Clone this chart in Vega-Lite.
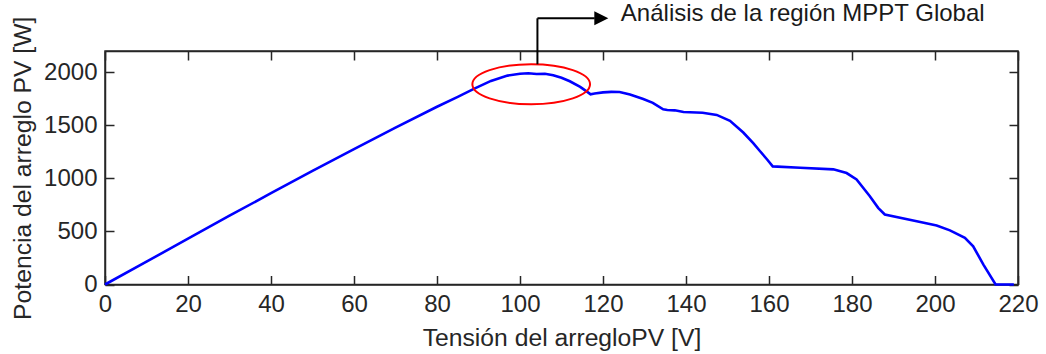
{
  "$schema": "https://vega.github.io/schema/vega-lite/v6.json",
  "width": 913,
  "height": 233.5,
  "autosize": {"type": "none"},
  "padding": {"left": 105, "top": 51, "right": 28, "bottom": 69.5},
  "background": "white",
  "config": {
    "view": {"stroke": "#262626", "strokeWidth": 1.5},
    "font": "Liberation Sans",
    "axis": {
      "grid": false,
      "labelFont": "Liberation Sans",
      "labelFontSize": 24,
      "labelColor": "#262626",
      "labelFlush": false,
      "labelOverlap": false,
      "titleFont": "Liberation Sans",
      "titleFontSize": 24.7,
      "titleFontWeight": "normal",
      "titleColor": "#262626",
      "domainColor": "#262626",
      "domainWidth": 1.5,
      "tickColor": "#262626",
      "tickWidth": 1.5,
      "tickSize": -9,
      "labelPadding": 17,
      "format": "d"
    }
  },
  "datasets": {
    "curve": [
      {"V": 0, "P": 0}, {"V": 10, "P": 215}, {"V": 20, "P": 432}, {"V": 30, "P": 648},
      {"V": 40, "P": 860}, {"V": 50, "P": 1070}, {"V": 60, "P": 1275}, {"V": 70, "P": 1478},
      {"V": 80, "P": 1675}, {"V": 85, "P": 1768}, {"V": 89, "P": 1845}, {"V": 93, "P": 1918},
      {"V": 97, "P": 1968}, {"V": 100, "P": 1985}, {"V": 102, "P": 1990}, {"V": 104, "P": 1984},
      {"V": 106, "P": 1986}, {"V": 108, "P": 1972}, {"V": 110, "P": 1948}, {"V": 112, "P": 1915},
      {"V": 114.5, "P": 1862}, {"V": 116.3, "P": 1812}, {"V": 117, "P": 1792}, {"V": 118, "P": 1800},
      {"V": 120, "P": 1810}, {"V": 122, "P": 1815}, {"V": 124, "P": 1813}, {"V": 126.5, "P": 1790},
      {"V": 129.7, "P": 1748}, {"V": 132, "P": 1712}, {"V": 134.5, "P": 1650}, {"V": 135.5, "P": 1644},
      {"V": 137.3, "P": 1641}, {"V": 139.4, "P": 1625}, {"V": 144, "P": 1618}, {"V": 147.4, "P": 1598},
      {"V": 150.6, "P": 1542}, {"V": 153.8, "P": 1432}, {"V": 156.2, "P": 1332}, {"V": 157.8, "P": 1258},
      {"V": 159.5, "P": 1180}, {"V": 160.9, "P": 1113}, {"V": 167.5, "P": 1100}, {"V": 175.5, "P": 1085},
      {"V": 178.7, "P": 1050}, {"V": 181.1, "P": 990}, {"V": 184.3, "P": 832}, {"V": 186.3, "P": 722},
      {"V": 187.9, "P": 660}, {"V": 195.6, "P": 595}, {"V": 200.4, "P": 556}, {"V": 203.6, "P": 510},
      {"V": 207.2, "P": 440}, {"V": 209.2, "P": 360}, {"V": 211.7, "P": 185}, {"V": 214.6, "P": 0},
      {"V": 219, "P": 0}
    ],
    "ellipse": [{"V": 102.7, "P": 1887}],
    "arrowV": [{"V": 104.2, "P": 2075, "P2": 2508}],
    "arrowH": [{"V": 104.2, "V2": 118, "P": 2508}],
    "head": [{"V": 119.6, "P": 2508}],
    "label": [{"V": 124.3, "P": 2485, "text": "Análisis de la región MPPT Global"}]
  },
  "resolve": {"axis": {"x": "independent", "y": "independent"}},
  "layer": [
    {
      "data": {"name": "curve"},
      "mark": {"type": "line", "color": "#0000FF", "strokeWidth": 2.6},
      "encoding": {
        "x": {
          "field": "V", "type": "quantitative",
          "scale": {"domain": [0, 220], "nice": false, "zero": false},
          "axis": {"orient": "bottom", "values": [0, 20, 40, 60, 80, 100, 120, 140, 160, 180, 200, 220], "title": "Tensión del arregloPV [V]", "titlePadding": 9}
        },
        "y": {
          "field": "P", "type": "quantitative",
          "scale": {"domain": [0, 2200], "nice": false, "zero": false},
          "axis": {"orient": "left", "values": [0, 500, 1000, 1500, 2000], "title": "Potencia del arreglo PV [W]", "titlePadding": 8}
        }
      }
    },
    {
      "data": {"name": "curve"},
      "mark": {"type": "point", "opacity": 0},
      "encoding": {
        "x": {
          "field": "V", "type": "quantitative",
          "scale": {"domain": [0, 220], "nice": false, "zero": false},
          "axis": {"orient": "top", "values": [0, 20, 40, 60, 80, 100, 120, 140, 160, 180, 200, 220], "labels": false, "title": null}
        },
        "y": {
          "field": "P", "type": "quantitative",
          "scale": {"domain": [0, 2200], "nice": false, "zero": false},
          "axis": {"orient": "right", "values": [0, 500, 1000, 1500, 2000], "labels": false, "title": null}
        }
      }
    },
    {
      "data": {"name": "ellipse"},
      "mark": {"type": "point", "shape": "M-1,0A1,0.34 0 1,0 1,0A1,0.34 0 1,0 -1,0Z", "size": 13850, "filled": false, "stroke": "#FF0000", "strokeWidth": 2, "opacity": 1},
      "encoding": {
        "x": {"field": "V", "type": "quantitative", "scale": {"domain": [0, 220], "nice": false, "zero": false}, "axis": null},
        "y": {"field": "P", "type": "quantitative", "scale": {"domain": [0, 2200], "nice": false, "zero": false}, "axis": null}
      }
    },
    {
      "data": {"name": "arrowV"},
      "mark": {"type": "rule", "color": "black", "strokeWidth": 2},
      "encoding": {
        "x": {"field": "V", "type": "quantitative", "scale": {"domain": [0, 220], "nice": false, "zero": false}, "axis": null},
        "y": {"field": "P", "type": "quantitative", "scale": {"domain": [0, 2200], "nice": false, "zero": false}, "axis": null},
        "y2": {"field": "P2"}
      }
    },
    {
      "data": {"name": "arrowH"},
      "mark": {"type": "rule", "color": "black", "strokeWidth": 2},
      "encoding": {
        "x": {"field": "V", "type": "quantitative", "scale": {"domain": [0, 220], "nice": false, "zero": false}, "axis": null},
        "x2": {"field": "V2"},
        "y": {"field": "P", "type": "quantitative", "scale": {"domain": [0, 2200], "nice": false, "zero": false}, "axis": null}
      }
    },
    {
      "data": {"name": "head"},
      "mark": {"type": "point", "shape": "M-1,-1L1,0L-1,1Z", "size": 196, "filled": true, "color": "black", "opacity": 1},
      "encoding": {
        "x": {"field": "V", "type": "quantitative", "scale": {"domain": [0, 220], "nice": false, "zero": false}, "axis": null},
        "y": {"field": "P", "type": "quantitative", "scale": {"domain": [0, 2200], "nice": false, "zero": false}, "axis": null}
      }
    },
    {
      "data": {"name": "label"},
      "mark": {"type": "text", "align": "left", "baseline": "alphabetic", "font": "Liberation Sans", "fontSize": 24, "color": "#1a1a1a"},
      "encoding": {
        "x": {"field": "V", "type": "quantitative", "scale": {"domain": [0, 220], "nice": false, "zero": false}, "axis": null},
        "y": {"field": "P", "type": "quantitative", "scale": {"domain": [0, 2200], "nice": false, "zero": false}, "axis": null},
        "text": {"field": "text"}
      }
    }
  ]
}
